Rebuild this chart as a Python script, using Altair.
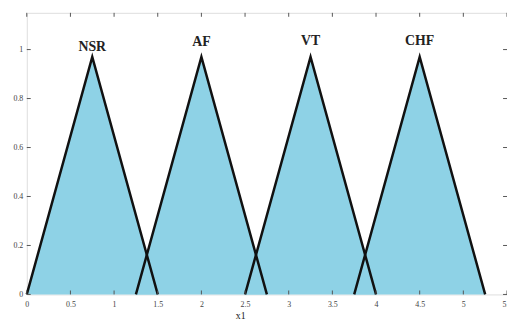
import altair as alt
import pandas as pd

classes = ["NSR", "AF", "VT", "CHF"]
left_x = [0.0, 1.25, 2.5, 3.75]
peak_x = [0.75, 2.0, 3.25, 4.5]
right_x = [1.5, 2.75, 4.0, 5.25]
peak_y = [0.97, 0.97, 0.97, 0.97]
label_y = [1.01, 1.03, 1.035, 1.035]
x_ticks = [0, 0.5, 1, 1.5, 2, 2.5, 3, 3.5, 4, 4.5, 5, 5.5]
y_ticks = [0, 0.2, 0.4, 0.6, 0.8, 1]

rows = []
for c, a, b, r, h in zip(classes, left_x, peak_x, right_x, peak_y):
    rows += [{"cls": c, "x": a, "y": 0, "o": 0},
             {"cls": c, "x": b, "y": h, "o": 1},
             {"cls": c, "x": r, "y": 0, "o": 2}]
tri = pd.DataFrame(rows)
labels = pd.DataFrame({"cls": classes, "x": peak_x, "y": label_y})
xt = pd.DataFrame({"v": x_ticks})
yt = pd.DataFrame({"v": y_ticks})

W, H = 486, 285
xs = alt.Scale(domain=[0, 5.5], nice=False, zero=False)
ys = alt.Scale(domain=[0, 1.15], nice=False)

xaxis = alt.Axis(values=x_ticks, format="~g", ticks=False, grid=False,
                 labelFont="Liberation Serif", labelFontSize=8, labelColor="#444",
                 labelPadding=6, domain=False, title="x1", titleFont="Liberation Serif",
                 titleFontSize=10, titleFontWeight="normal", titleColor="#222",
                 titleX=216, titleY=26, titleBaseline="bottom", labelFlush=False)
yaxis = alt.Axis(values=y_ticks, format="~g", ticks=False, grid=False,
                 labelFont="Liberation Serif", labelFontSize=8, labelColor="#444",
                 labelPadding=4, domain=False, title=None)

area = alt.Chart(tri).mark_area(color="#8ed2e6", opacity=1).encode(
    x=alt.X("x:Q", scale=xs, axis=xaxis),
    y=alt.Y("y:Q", scale=ys, axis=yaxis),
    y2=alt.datum(0),
    detail="cls:N")
line = alt.Chart(tri).mark_line(color="#111", strokeWidth=2.5).encode(
    x=alt.X("x:Q", scale=xs), y=alt.Y("y:Q", scale=ys), detail="cls:N", order="o:Q")
text = alt.Chart(labels).mark_text(font="Liberation Serif", fontWeight="bold",
                                   fontSize=14, color="#222", baseline="middle").encode(
    x=alt.X("x:Q", scale=xs), y=alt.Y("y:Q", scale=ys), text="cls:N")

tk = 4
xb = alt.Chart(xt).mark_rule(color="#555", strokeWidth=1).encode(
    x=alt.X("v:Q", scale=xs), y=alt.value(H), y2=alt.value(H - tk))
xtop = alt.Chart(xt).mark_rule(color="#555", strokeWidth=1).encode(
    x=alt.X("v:Q", scale=xs), y=alt.value(0), y2=alt.value(tk))
yl = alt.Chart(yt).mark_rule(color="#555", strokeWidth=1).encode(
    y=alt.Y("v:Q", scale=ys), x=alt.value(0), x2=alt.value(tk))
yr = alt.Chart(yt).mark_rule(color="#555", strokeWidth=1).encode(
    y=alt.Y("v:Q", scale=ys), x=alt.value(W), x2=alt.value(W - tk))

chart = alt.layer(area, line, text, xb, xtop, yl, yr).properties(
    width=W, height=H, autosize=alt.AutoSizeParams(type="none"),
    padding={"left": 19, "top": 3, "right": 0, "bottom": 27}
).configure_view(stroke="#555", strokeWidth=1.5).configure(background="white")

chart.save("out.html", embed_options={"renderer": "svg", "actions": False})
